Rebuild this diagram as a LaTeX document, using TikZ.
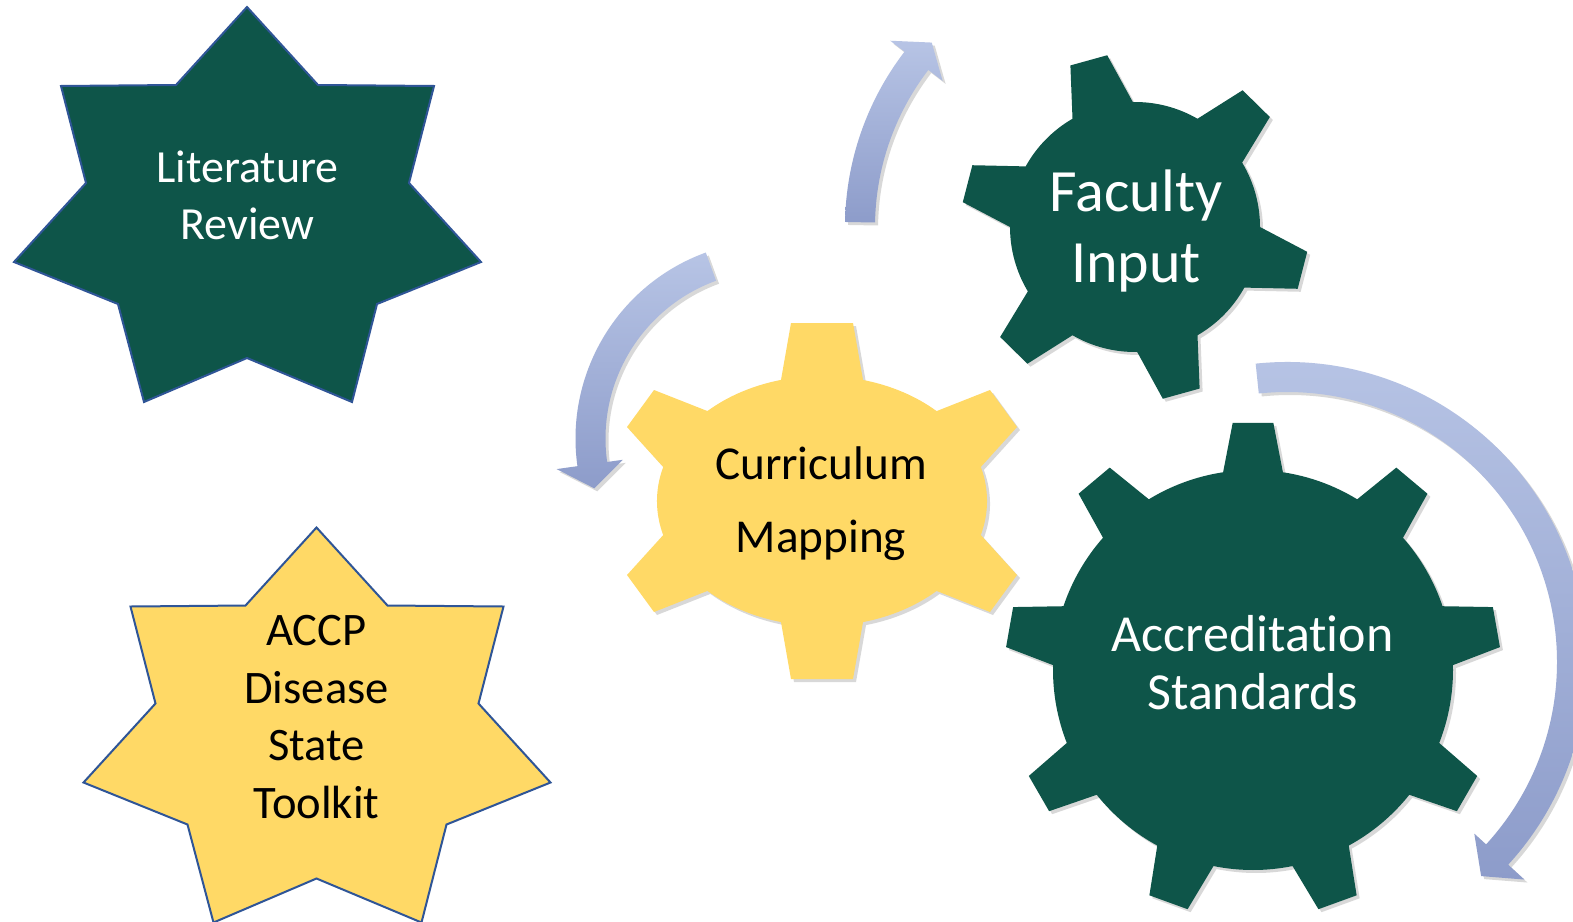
\documentclass[tikz,border=0pt]{standalone}
\usepackage{fontspec}
\setmainfont{Carlito}[Ligatures={NoCommon,NoContextual}]
\usetikzlibrary{shadows}

\definecolor{gearGreen}{HTML}{0E5549}
\definecolor{gearGold}{HTML}{FFD966}
\definecolor{starLine}{HTML}{2F5597}
\definecolor{arrowTop}{HTML}{B7C4E5}
\definecolor{arrowBot}{HTML}{8D9CCA}

% outline of the seven-pointed star, top point at (247,7)
\newcommand{\heptastar}{(247,7) -- (318,85) -- (434,86) -- (409,183) -- (481,262)
    -- (377,304) -- (352,402) -- (247,358) -- (144,402) -- (118,304) -- (14,262)
    -- (86,183) -- (61,86) -- (176,85) -- cycle}

\begin{document}
\begin{tikzpicture}[x=0.5pt, y=-0.5pt,
        starbox/.style={draw=starLine, line width=1pt, line join=miter},
        gearbody/.style={drop shadow={shadow xshift=1.5pt, shadow yshift=-1.5pt, opacity=0.3}},
        looparrow/.style={top color=arrowTop, bottom color=arrowBot,
            drop shadow={shadow xshift=1.5pt, shadow yshift=-1.5pt, opacity=0.3}},
        gtext/.style={align=center, inner sep=0pt}]
    \useasboundingbox (0,0) rectangle (1573,921);
    \clip (0,0) rectangle (1573,921);
    \fill[white] (0,0) rectangle (1573,921);

    % the two stars
    \filldraw[starbox, fill=gearGreen] \heptastar;
    \begin{scope}[shift={(69.5,520.5)}]
        \filldraw[starbox, fill=gearGold] \heptastar;
    \end{scope}

    % faculty gear
    \begin{scope}[shift={(1135,227)}, yscale=-1]
        \fill[gearbody, gearGreen] (0:125)
            \foreach \a in {45.5,105.5,165.5,225.5,285.5,345.5} {
                arc[start angle=\a-45.5, end angle=\a-14.5, radius=125]
                -- ({\a-6.3}:174) -- ({\a+6.3}:174) -- ({\a+14.5}:125)
            } -- cycle;
    \end{scope}

    % curriculum gear, body is an ellipse
    \begin{scope}[shift={(822,501)}, yscale=-1]
        \fill[gearbody, gearGold] (158.8,34) -- (195,74) -- (168,111) -- (114.6,89.9)
            arc[start angle=46, end angle=75.6, x radius=165, y radius=125]
            -- (31,178) -- (-31,178) -- (-41,121.1)
            arc[start angle=104.4, end angle=134, x radius=165, y radius=125]
            -- (-168,111) -- (-195,74) -- (-158.8,34)
            arc[start angle=164.2, end angle=195.8, x radius=165, y radius=125]
            -- (-195,-74) -- (-168,-111) -- (-114.6,-89.9)
            arc[start angle=226, end angle=255.6, x radius=165, y radius=125]
            -- (-31,-178) -- (31,-178) -- (41,-121.1)
            arc[start angle=284.4, end angle=314, x radius=165, y radius=125]
            -- (168,-111) -- (195,-74) -- (158.8,-34)
            arc[start angle=344.2, end angle=375.8, x radius=165, y radius=125]
            -- cycle;
    \end{scope}

    % accreditation gear
    \begin{scope}[shift={(1253,670)}, yscale=-1]
        \fill[gearbody, gearGreen] (-21.4:200)
            \foreach \a in {10,50,90,130,170,210,250,290,330} {
                arc[start angle=\a-31.4, end angle=\a-8.6, radius=200]
                -- ({\a-4.7}:248) -- ({\a+4.7}:248) -- ({\a+8.6}:200)
            } -- cycle;
    \end{scope}

    % curved arrows
    \begin{scope}[shift={(1133,227)}, yscale=-1]
        \shade[looparrow] (179:288) arc[start angle=179, end angle=142.5, radius=288]
            -- (142.5:306) -- (137.5:273) -- (142.5:240) -- (142.5:258)
            arc[start angle=142.5, end angle=179, radius=258] -- cycle;
    \end{scope}
    \begin{scope}[shift={(773.5,438.6)}, yscale=-1]
        \shade[looparrow] (110:198) arc[start angle=110, end angle=188, radius=198]
            -- (188:219) -- (195.5:186) -- (188:152) -- (188:168)
            arc[start angle=188, end angle=110, radius=168] -- cycle;
    \end{scope}
    \begin{scope}[shift={(1287,662)}, yscale=-1]
        \shade[looparrow] (96:300) arc[start angle=96, end angle=-42.5, radius=300]
            -- (-42.5:322) -- (-47.8:289) -- (-42.5:254) -- (-42.5:270)
            arc[start angle=-42.5, end angle=96, radius=270] -- cycle;
    \end{scope}

    % texts
    \node[gtext, text=white, font=\fontsize{23}{28.5}\selectfont] (litrev) at (247.5,195.5) {Literature\\Review};
    \node[gtext, text=black, font=\fontsize{23.3}{28.7}\selectfont] (accp) at (316.5,717) {ACCP\\Disease\\State\\Toolkit};
    \node[gtext, text=white, font=\fontsize{30}{35.5}\selectfont] (faculty) at (1136,231) {Faculty\\Input};
    \node[gtext, text=black, font=\fontsize{23.6}{36.5}\selectfont] (curric) at (821,504) {Curriculum\\Mapping};
    \node[gtext, text=white, font=\fontsize{26}{29}\selectfont] (accred) at (1252.5,663) {Accreditation\\Standards};
\end{tikzpicture}
\end{document}
